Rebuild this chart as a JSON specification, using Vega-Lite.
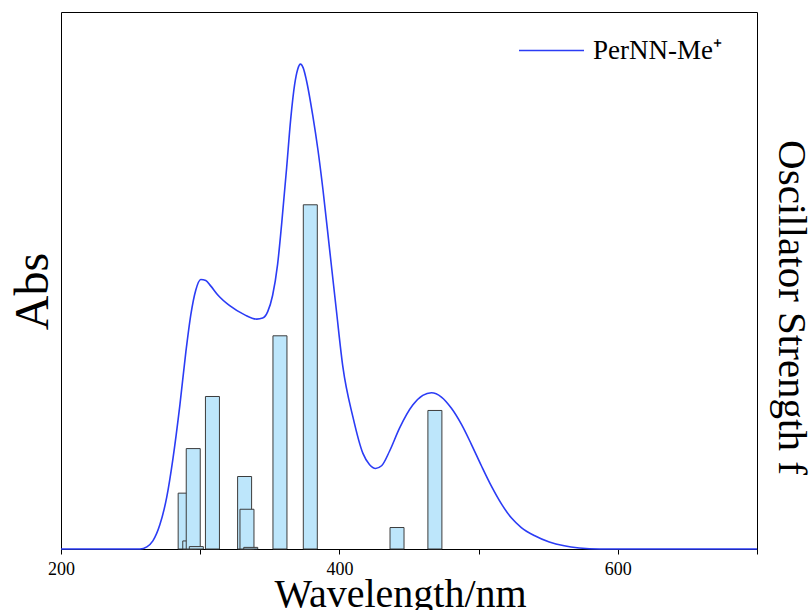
{
  "$schema": "https://vega.github.io/schema/vega-lite/v6.json",
  "width": 696,
  "height": 537,
  "autosize": {"type": "none"},
  "padding": {"left": 61, "top": 12, "right": 55, "bottom": 61},
  "background": "white",
  "config": {"view": {"stroke": "black", "strokeWidth": 1}, "font": "Liberation Serif"},
  "datasets": {
    "bars": [
      {"wavelength": 289.2, "f": 0.104},
      {"wavelength": 292.5, "f": 0.015},
      {"wavelength": 295.0, "f": 0.187},
      {"wavelength": 297.2, "f": 0.0045},
      {"wavelength": 308.8, "f": 0.284},
      {"wavelength": 331.9, "f": 0.135},
      {"wavelength": 333.6, "f": 0.074},
      {"wavelength": 336.3, "f": 0.003},
      {"wavelength": 357.3, "f": 0.397},
      {"wavelength": 379.1, "f": 0.641},
      {"wavelength": 441.4, "f": 0.040},
      {"wavelength": 468.6, "f": 0.258}
    ],
    "spectrum": [
      {"wavelength": 200, "abs": 0},
      {"wavelength": 256.7, "abs": 0},
      {"wavelength": 261.7, "abs": 0.004},
      {"wavelength": 266.0, "abs": 0.015},
      {"wavelength": 271.0, "abs": 0.045},
      {"wavelength": 276.0, "abs": 0.097},
      {"wavelength": 280.3, "abs": 0.166},
      {"wavelength": 285.4, "abs": 0.268},
      {"wavelength": 289.7, "abs": 0.367},
      {"wavelength": 293.3, "abs": 0.437},
      {"wavelength": 296.8, "abs": 0.482},
      {"wavelength": 300.4, "abs": 0.502},
      {"wavelength": 304.0, "abs": 0.500},
      {"wavelength": 307.5, "abs": 0.490},
      {"wavelength": 313.0, "abs": 0.472},
      {"wavelength": 321.2, "abs": 0.453},
      {"wavelength": 332.0, "abs": 0.436},
      {"wavelength": 340.6, "abs": 0.428},
      {"wavelength": 344.9, "abs": 0.430},
      {"wavelength": 348.5, "abs": 0.442},
      {"wavelength": 352.0, "abs": 0.472},
      {"wavelength": 355.6, "abs": 0.530},
      {"wavelength": 358.5, "abs": 0.605},
      {"wavelength": 362.1, "abs": 0.710},
      {"wavelength": 365.0, "abs": 0.800},
      {"wavelength": 367.9, "abs": 0.866},
      {"wavelength": 370.0, "abs": 0.893},
      {"wavelength": 372.0, "abs": 0.903},
      {"wavelength": 374.0, "abs": 0.896},
      {"wavelength": 376.3, "abs": 0.873},
      {"wavelength": 381.0, "abs": 0.805},
      {"wavelength": 384.6, "abs": 0.743},
      {"wavelength": 388.2, "abs": 0.669},
      {"wavelength": 393.0, "abs": 0.557},
      {"wavelength": 397.8, "abs": 0.445},
      {"wavelength": 402.5, "abs": 0.339},
      {"wavelength": 409.7, "abs": 0.246},
      {"wavelength": 416.9, "abs": 0.178},
      {"wavelength": 421.7, "abs": 0.157},
      {"wavelength": 426.0, "abs": 0.150},
      {"wavelength": 430.3, "abs": 0.155},
      {"wavelength": 436.0, "abs": 0.182},
      {"wavelength": 443.2, "abs": 0.225},
      {"wavelength": 452.7, "abs": 0.268},
      {"wavelength": 459.9, "abs": 0.286},
      {"wavelength": 466.1, "abs": 0.291},
      {"wavelength": 473.3, "abs": 0.283},
      {"wavelength": 480.5, "abs": 0.262},
      {"wavelength": 487.7, "abs": 0.232},
      {"wavelength": 494.8, "abs": 0.195},
      {"wavelength": 502.0, "abs": 0.155},
      {"wavelength": 509.2, "abs": 0.117},
      {"wavelength": 516.4, "abs": 0.084},
      {"wavelength": 523.5, "abs": 0.058},
      {"wavelength": 530.7, "abs": 0.040},
      {"wavelength": 540.0, "abs": 0.025},
      {"wavelength": 550.8, "abs": 0.013},
      {"wavelength": 561.5, "abs": 0.006},
      {"wavelength": 572.3, "abs": 0.002},
      {"wavelength": 586.7, "abs": 0},
      {"wavelength": 700, "abs": 0}
    ]
  },
  "layer": [
    {
      "data": {"name": "bars"},
      "mark": {"type": "bar", "size": 14, "fill": "#bde6fb", "stroke": "#3c3c3c", "strokeWidth": 1},
      "encoding": {
        "x": {
          "field": "wavelength", "type": "quantitative",
          "scale": {"domain": [200, 700], "nice": false, "zero": false, "padding": 0},
          "axis": {"title": "Wavelength/nm", "values": [200, 300, 400, 500, 600, 700], "labelExpr": "datum.value % 200 == 0 ? datum.label : ''", "grid": false, "tickSize": 5, "tickColor": "black", "domainColor": "black", "labelFont": "Liberation Serif", "labelFontSize": 18, "labelColor": "black", "labelPadding": 6, "labelFlush": false, "labelOverlap": false, "titleFont": "Liberation Serif", "titleFontSize": 40, "titleFontWeight": "normal", "titleColor": "black", "titleX": 339, "titleY": 57, "titleBaseline": "alphabetic", "format": "d"}
        },
        "y": {
          "field": "f", "type": "quantitative",
          "scale": {"domain": [0, 1]},
          "axis": {"orient": "right", "title": "Oscillator Strength f", "ticks": false, "labels": false, "domain": false, "grid": false, "titleFont": "Liberation Serif", "titleFontSize": 41, "titleFontWeight": "normal", "titleColor": "black", "titleAngle": 90, "titleX": 21, "titleY": 295, "titleBaseline": "alphabetic", "titleAlign": "center"}
        }
      }
    },
    {
      "data": {"name": "spectrum"},
      "mark": {"type": "line", "interpolate": "monotone", "strokeWidth": 1.6},
      "encoding": {
        "x": {
          "field": "wavelength", "type": "quantitative",
          "scale": {"domain": [200, 700], "nice": false, "zero": false, "padding": 0},
          "axis": {"title": "Wavelength/nm", "values": [200, 300, 400, 500, 600, 700], "labelExpr": "datum.value % 200 == 0 ? datum.label : ''", "grid": false, "tickSize": 5, "tickColor": "black", "domainColor": "black", "labelFont": "Liberation Serif", "labelFontSize": 18, "labelColor": "black", "labelPadding": 6, "labelFlush": false, "labelOverlap": false, "titleFont": "Liberation Serif", "titleFontSize": 40, "titleFontWeight": "normal", "titleColor": "black", "titleX": 339, "titleY": 57, "titleBaseline": "alphabetic", "format": "d"}
        },
        "y": {
          "field": "abs", "type": "quantitative",
          "scale": {"domain": [0, 1]},
          "axis": {"orient": "left", "title": "Abs", "ticks": false, "labels": false, "domain": false, "grid": false, "titleFont": "Liberation Serif", "titleFontSize": 48, "titleFontWeight": "normal", "titleColor": "black", "titleAngle": 270, "titleX": -14, "titleY": 279, "titleBaseline": "alphabetic", "titleAlign": "center"}
        },
        "color": {
          "datum": "PerNN-Me⁺", "type": "nominal",
          "scale": {"range": ["#2b3cf5"]},
          "legend": {"orient": "none", "legendX": 457, "legendY": 5, "title": null, "symbolType": "stroke", "symbolSize": 4225, "symbolStrokeWidth": 1.6, "labelFontSize": 27, "labelFont": "Liberation Serif", "labelColor": "black", "labelOffset": 8, "padding": 0, "labelLimit": 400}
        }
      }
    }
  ],
  "resolve": {"scale": {"y": "independent"}}
}
